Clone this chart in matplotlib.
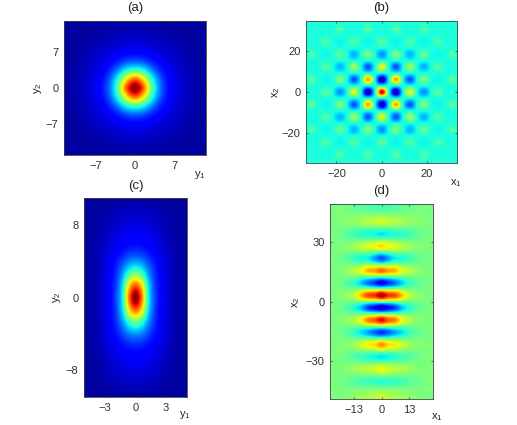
import numpy as np
import matplotlib
matplotlib.use("Agg")
import matplotlib.pyplot as plt

plt.rcParams["font.family"] = ["Liberation Sans", "DejaVu Sans"]
plt.rcParams["mathtext.default"] = "regular"

W, H = 517, 425

# (a) quadrant of intensity, rows y2 going out, cols y1 going out
quad_a = [
    [1.00, .80, .44, .22, .125, .085, .055, .04, .03],
    [.80, .64, .38, .20, .115, .08, .055, .038, .03],
    [.44, .38, .25, .15, .10, .07, .05, .036, .03],
    [.22, .20, .15, .11, .08, .06, .044, .033, .03],
    [.125, .115, .10, .08, .065, .05, .038, .03, .03],
    [.085, .08, .07, .06, .05, .04, .033, .03, .03],
    [.055, .055, .05, .044, .038, .033, .03, .03, .03],
    [.04, .038, .036, .033, .03, .03, .03, .03, .03],
    [.03, .03, .03, .03, .03, .03, .03, .03, .03],
]
step_a_x = 1.5625
step_a_y = 1.75

# (c) same idea, stretched along y2
quad_c = [
    [1.00, .78, .38, .20, .12, .08, .05, .035, .03],
    [.80, .66, .35, .19, .115, .078, .05, .035, .03],
    [.48, .41, .27, .17, .11, .075, .048, .034, .03],
    [.26, .24, .19, .14, .10, .07, .046, .033, .03],
    [.15, .145, .125, .10, .085, .06, .042, .032, .03],
    [.115, .11, .10, .085, .07, .05, .038, .03, .03],
    [.085, .08, .075, .065, .055, .042, .034, .03, .03],
    [.06, .058, .055, .048, .042, .035, .03, .03, .03],
    [.03, .03, .03, .03, .03, .03, .03, .03, .03],
]
step_c_x = 0.64
step_c_y = 1.375

# (b) lattice nodes, every 6.2 units, between them the background level
lattice_b = [
    [.95, .03, .63, .26, .46, .385],
    [.03, .75, .20, .50, .37, .46],
    [.63, .20, .54, .30, .45, .385],
    [.26, .50, .30, .47, .37, .45],
    [.46, .37, .45, .37, .45, .385],
    [.385, .46, .385, .45, .385, .385],
]
background_b = 0.385
step_b = 3.1

# (d) one row per band, top to bottom, cols x1 going out from 0
bands_d = [
    [.45, .45, .46, .47, .48, .49, .50, .50, .50],
    [.60, .58, .57, .55, .53, .52, .51, .50, .50],
    [.35, .37, .385, .40, .42, .45, .48, .49, .50],
    [.68, .64, .62, .58, .55, .52, .51, .50, .50],
    [.20, .28, .36, .38, .41, .45, .48, .49, .50],
    [.80, .74, .72, .63, .58, .54, .51, .50, .50],
    [.10, .17, .23, .32, .40, .44, .48, .49, .50],
    [.98, .87, .84, .72, .60, .54, .51, .50, .50],
    [.05, .12, .18, .30, .38, .44, .48, .49, .50],
    [.92, .82, .78, .65, .58, .53, .51, .50, .50],
    [.16, .22, .28, .34, .40, .45, .48, .49, .50],
    [.76, .68, .66, .60, .55, .52, .51, .50, .50],
    [.35, .37, .39, .42, .44, .47, .49, .50, .50],
    [.64, .60, .58, .56, .54, .52, .50, .50, .50],
    [.40, .41, .42, .43, .45, .47, .49, .50, .50],
    [.57, .55, .54, .53, .52, .51, .50, .50, .50],
]
step_d_x = 3.1
step_d_y = 6.2


def mirror(q):
    q = np.array(q)
    q = np.hstack([q[:, :0:-1], q])
    return np.vstack([q[:0:-1], q])


def fx(px):
    return px / W


def fy(py):
    return 1 - py / H


def panel(box, grid, extent, xlim, ylim, xt, yt, title, tpos, xl, xlpos, yl, ylpos):
    l, t, r, b = box
    ax = fig.add_axes([fx(l), fy(b), (r - l) / W, (b - t) / H])
    ax.imshow(grid, cmap="jet", vmin=0, vmax=1, extent=extent, origin="upper",
              interpolation="catrom", aspect="auto")
    ax.set_xlim(*xlim)
    ax.set_ylim(*ylim)
    ax.set_xticks(xt)
    ax.set_yticks(yt)
    ax.tick_params(direction="in", length=1.5, width=0.5, labelsize=8,
                   top=True, right=True, pad=4, colors="#303030")
    for s in ax.spines.values():
        s.set_linewidth(0.6)
        s.set_color("#404040")
    fig.text(fx(tpos[0]), fy(tpos[1]), title, ha="center", va="center", fontsize=9.5, color="#222222")
    fig.text(fx(xlpos[0]), fy(xlpos[1]), xl, ha="center", va="center", fontsize=8, color="#222222")
    fig.text(fx(ylpos[0]), fy(ylpos[1]), yl, ha="center", va="center", fontsize=8, rotation=90, color="#222222")
    return ax


fig = plt.figure(figsize=(W / 100, H / 100), dpi=100)

ex, ey = 8.5 * step_a_x, 8.5 * step_a_y
panel((64, 21, 206, 155), mirror(quad_a), [-ex, ex, -ey, ey], (-12.5, 12.5), (-13.2, 13.2),
      [-7, 0, 7], [-7, 0, 7], "(a)", (135, 8), "$y_1$", (200, 175), "$y_2$", (38, 88))

nodes = np.array(lattice_b)
quad_b = np.full((12, 12), background_b)
quad_b[::2, ::2] = nodes
e = 11.5 * step_b
panel((306, 21, 457, 163), mirror(quad_b), [-e, e, -e, e], (-33.5, 33.5), (-35, 35),
      [-20, 0, 20], [-20, 0, 20], "(b)", (381, 8), "$x_1$", (456, 183), "$x_2$", (276, 92))

ex, ey = 8.5 * step_c_x, 8.5 * step_c_y
panel((84, 198, 187, 397), mirror(quad_c), [-ex, ex, -ey, ey], (-5.1, 5.1), (-11, 11),
      [-3, 0, 3], [-8, 0, 8], "(c)", (136, 186), "$y_1$", (185, 415), "$y_2$", (57, 297))

d = np.array(bands_d)
grid_d = np.hstack([d[:, :0:-1], d])
ex, ey = 8.5 * step_d_x, 8 * step_d_y
panel((330, 204, 433, 399), grid_d, [-ex, ex, -ey, ey], (-24, 24), (-49.5, 49.5),
      [-13, 0, 13], [-30, 0, 30], "(d)", (381, 191), "$x_1$", (437, 417), "$x_2$", (296, 302))

fig.savefig("out.png", dpi=100)
